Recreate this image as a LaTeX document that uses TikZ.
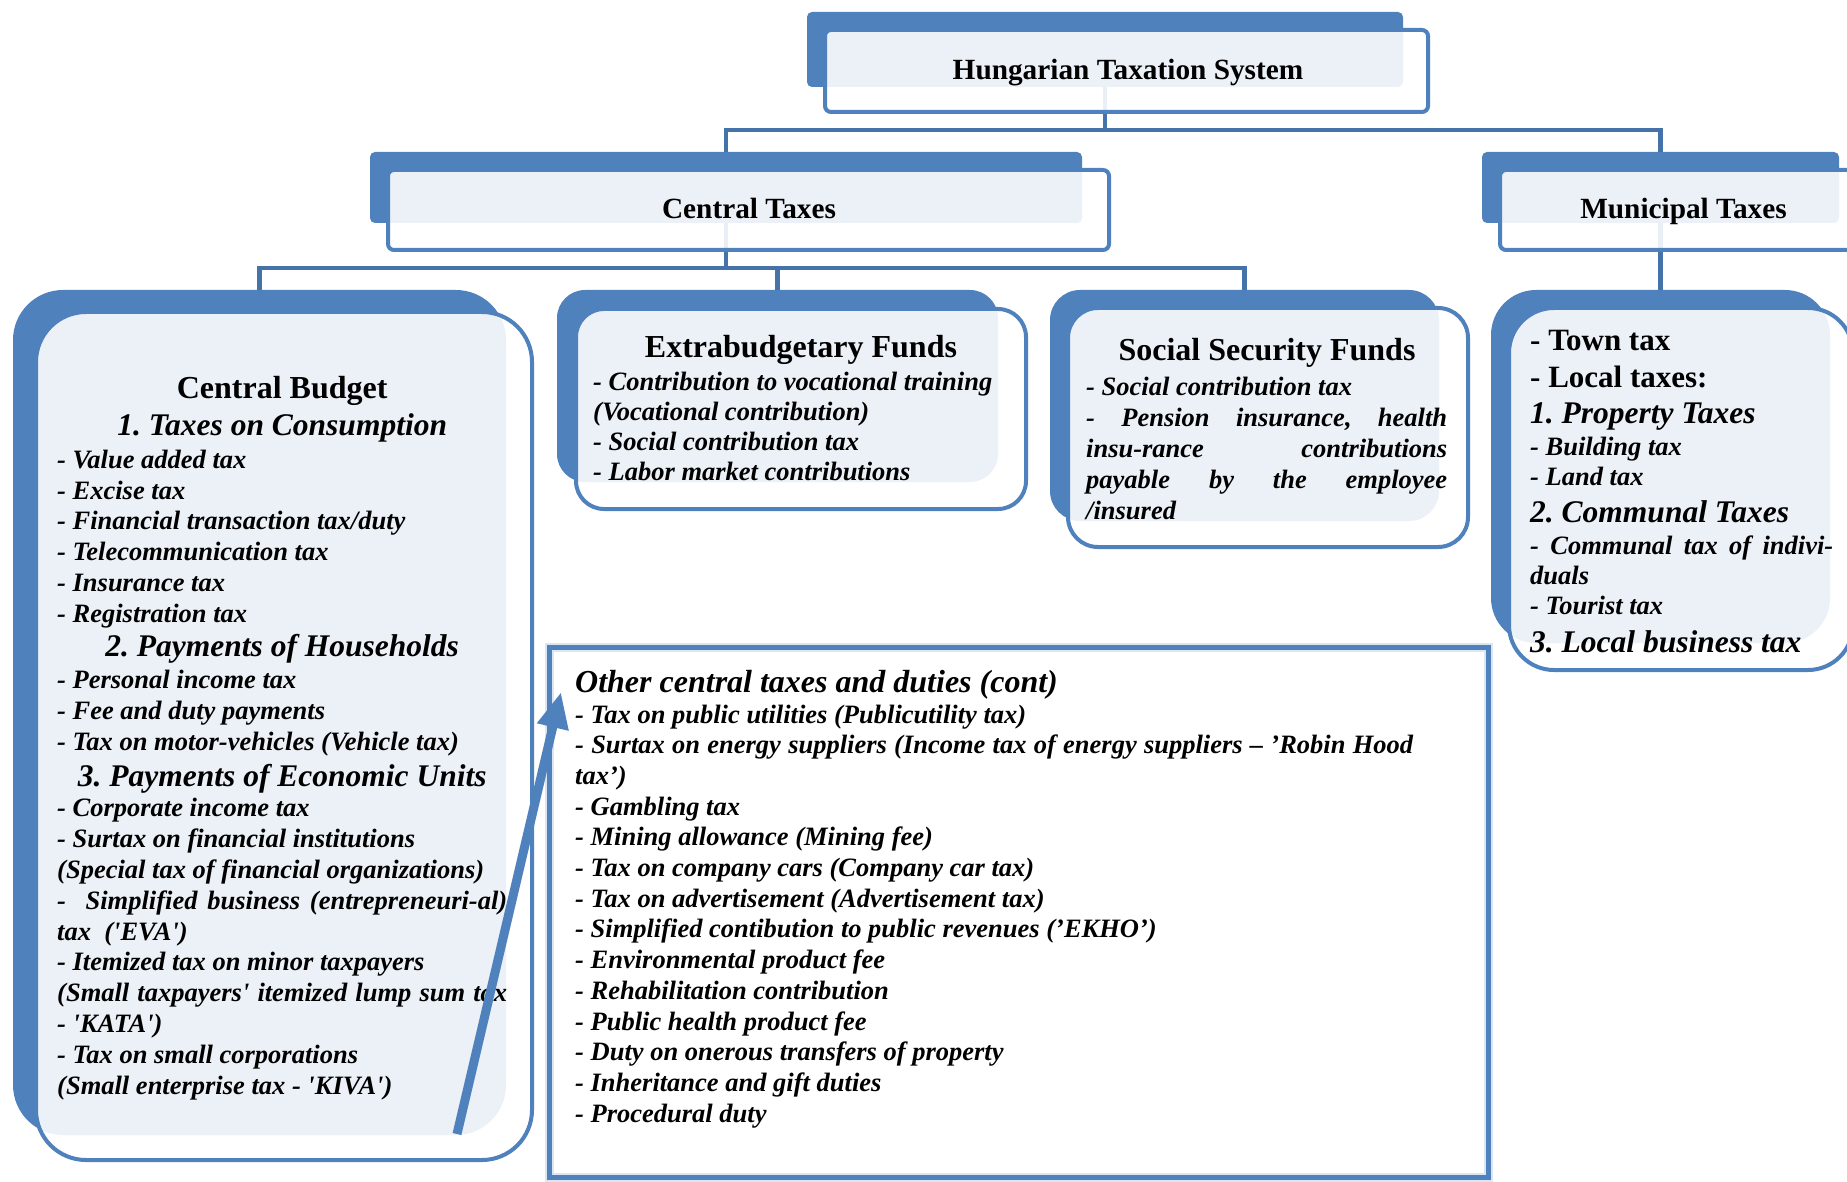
\documentclass[tikz,border=0pt]{standalone}
\usepackage{fontspec}
\newfontfamily\taxfont{Liberation Serif}
\usetikzlibrary{arrows.meta}
\definecolor{boxblue}{HTML}{4F81BD}
\definecolor{linkblue}{HTML}{4672AA}
\newcommand\subhd{\fontsize{31.5}{36}\selectfont}
\newcommand\boxhd{\fontsize{32}{36}\selectfont\upshape}
\newcommand\townhd{\fontsize{31}{36}\selectfont\upshape}

\begin{document}
\frenchspacing
\begin{tikzpicture}[x=1pt,y=-1pt]
\tikzset{shadebox/.style={fill=boxblue, inner sep=0pt}}
\tikzset{panebox/.style={draw=boxblue, line width=4pt, fill=white, fill opacity=.89, inner sep=0pt}}
\tikzset{link/.style={draw=linkblue, line width=4.5pt}}
\tikzset{tiertext/.style={font=\taxfont\frenchspacing\bfseries\fontsize{29.3}{33}\selectfont, inner sep=0pt, anchor=base}}
\tikzset{fundtitle/.style={font=\taxfont\frenchspacing\bfseries\fontsize{32}{36}\selectfont, inner sep=0pt, anchor=base}}
\tikzset{fundlist/.style={font=\taxfont\frenchspacing\bfseries\itshape\fontsize{26.5}{#1}\selectfont, inner sep=0pt, anchor=base west}}

\useasboundingbox (0,0) rectangle (1847,1182);

% dark shapes behind
\node[shadebox, rounded corners=5pt, minimum width=596pt, minimum height=75pt] (hts) at (1105,49.5) {};
\node[shadebox, rounded corners=5pt, minimum width=712pt, minimum height=71pt] (ct) at (726,187.5) {};
\node[shadebox, rounded corners=5pt, minimum width=357pt, minimum height=71pt] (mt) at (1660.5,187.5) {};
\node[shadebox, rounded corners=50pt, minimum width=493pt, minimum height=845pt] (cb) at (259.5,712.5) {};
\node[shadebox, rounded corners=28pt, minimum width=441pt, minimum height=192pt] (ef) at (777.5,386) {};
\node[shadebox, rounded corners=30pt, minimum width=389pt, minimum height=231pt] (ss) at (1244.5,405.5) {};
\node[shadebox, rounded corners=45pt, minimum width=339pt, minimum height=353pt] (mu) at (1660.5,466.5) {};

% tree lines
\coordinate (bus1) at (0,130);
\coordinate (bus2) at (0,268);
\draw[link] (hts.south) -- (hts.south |- bus1) -| (ct.north);
\draw[link] (hts.south |- bus1) -| (mt.north);
\draw[link] (ct.south) -- (ct.south |- bus2) -| (cb.north);
\draw[link] (ct.south |- bus2) -| (ef.north);
\draw[link] (ct.south |- bus2) -| (ss.north);
\draw[link] (mt.south) -- (mu.north);

% light panes in front
\node[panebox, rounded corners=6pt, minimum width=603pt, minimum height=82pt] (htsPane) at (1126.5,71) {};
\node[panebox, rounded corners=6pt, minimum width=721pt, minimum height=80pt] (ctPane) at (748.5,210) {};
\node[panebox, rounded corners=6pt, minimum width=370pt, minimum height=80pt] (mtPane) at (1685,210) {};
\node[panebox, rounded corners=50pt, minimum width=496pt, minimum height=848pt] (cbPane) at (284,736) {};
\node[panebox, rounded corners=28pt, minimum width=450pt, minimum height=200pt] (efPane) at (801,409) {};
\node[panebox, rounded corners=30pt, minimum width=400pt, minimum height=239pt] (ssPane) at (1268,427.5) {};
\node[panebox, rounded corners=45pt, minimum width=344pt, minimum height=362pt] (muPane) at (1681,489) {};
\node[draw=boxblue, line width=5pt, preaction={draw=boxblue!20, line width=9pt}, minimum width=939pt, minimum height=530pt, inner sep=0pt] (other) at (1018.5,912) {};

\node[tiertext] (htsText) at (1128,80) {Hungarian Taxation System};
\node[tiertext] (ctText) at (749,219) {Central Taxes};
\node[tiertext] (mtText) at (1683.5,219) {Municipal Taxes};

\node[fundlist=30.8] (cbText) at (57,398) {\begin{tabular}[t]{@{}l@{}}
\multicolumn{1}{c}{\boxhd Central Budget}\\[6.2pt]
\multicolumn{1}{c}{\subhd 1. Taxes on Consumption}\\[2.2pt]
- Value added tax\\
- Excise tax\\
- Financial transaction tax/duty\\
- Telecommunication tax\\
- Insurance tax\\
- Registration tax\\[3pt]
\multicolumn{1}{c}{\subhd 2. Payments of Households}\\[1pt]
- Personal income tax\\
- Fee and duty payments\\
- Tax on motor-vehicles (Vehicle tax)\\[4.5pt]
\multicolumn{1}{c}{\subhd 3. Payments of Economic Units}\\
- Corporate income tax\\
- Surtax on financial institutions\\
(Special tax of financial organizations)\\
\makebox[450pt][s]{- \ Simplified business (entrepreneuri-al)}\\
tax \ ('EVA')\\
- Itemized tax on minor taxpayers\\
\makebox[450pt][s]{(Small taxpayers' itemized lump sum tax}\\
- 'KATA')\\
- Tax on small corporations\\
(Small enterprise tax - 'KIVA')
\end{tabular}};

\node[fundtitle] (efTitle) at (801,357) {Extrabudgetary Funds};
\node[fundlist=30] (efText) at (593,390) {\begin{tabular}[t]{@{}l@{}}
- Contribution to vocational training\\
(Vocational contribution)\\
- Social contribution tax\\
- Labor market contributions
\end{tabular}};

\node[fundtitle] (ssTitle) at (1267,360) {Social Security Funds};
\node[fundlist=31] (ssText) at (1086,395) {\begin{tabular}[t]{@{}l@{}}
- Social contribution tax\\
\makebox[361pt][s]{- Pension insurance, health}\\
\makebox[361pt][s]{insu-rance contributions}\\
\makebox[361pt][s]{payable by the employee}\\
/insured
\end{tabular}};

\node[fundlist=30] (muText) at (1530,350) {\begin{tabular}[t]{@{}l@{}}
{\townhd - Town tax}\\[7pt]
{\townhd - Local taxes:}\\[6pt]
{\subhd 1. Property Taxes}\\[2pt]
- Building tax\\
- Land tax\\[6pt]
{\subhd 2. Communal Taxes}\\[2pt]
\makebox[303pt][s]{- Communal tax of indivi-}\\
duals\\
- Tourist tax\\[7pt]
{\subhd 3. Local business tax}
\end{tabular}};

\node[fundlist=30.7] (otherText) at (575,692) {\begin{tabular}[t]{@{}l@{}}
{\fontsize{32}{36}\selectfont Other central taxes and duties (cont)}\\[0.3pt]
- Tax on public utilities (Publicutility tax)\\
\makebox[838pt][s]{- Surtax on energy suppliers (Income tax of energy suppliers – ’Robin Hood}\\
tax’)\\
- Gambling tax\\
- Mining allowance (Mining fee)\\
- Tax on company cars (Company car tax)\\
- Tax on advertisement (Advertisement tax)\\
- Simplified contibution to public revenues (’EKHO’)\\
- Environmental product fee\\
- Rehabilitation contribution\\
- Public health product fee\\
- Duty on onerous transfers of property\\
- Inheritance and gift duties\\
- Procedural duty
\end{tabular}};

\coordinate (arrFrom) at (457,1134);
\coordinate (arrTo) at (561,692);
\draw[boxblue, line width=9pt, -{Triangle[width=30pt,length=36pt]}] (arrFrom) -- (arrTo);

\end{tikzpicture}
\end{document}
